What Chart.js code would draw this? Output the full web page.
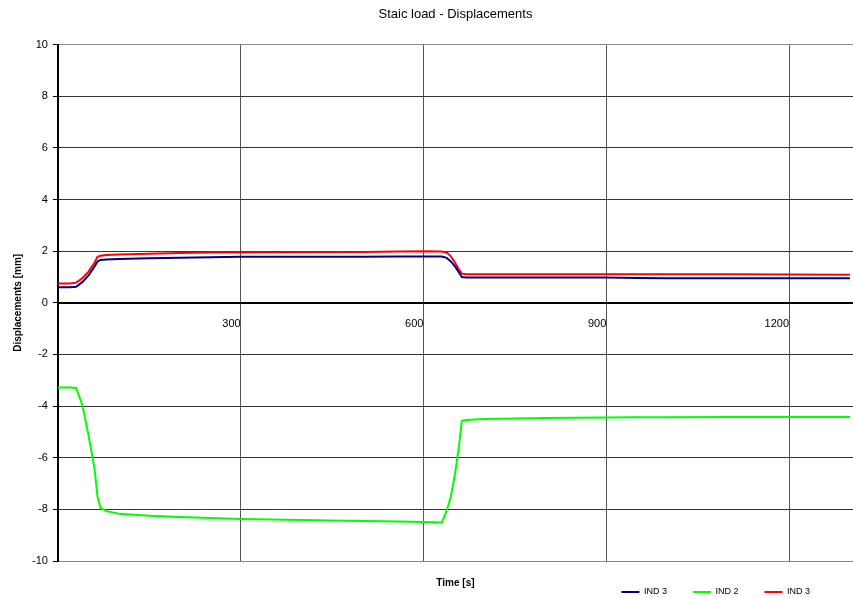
<!DOCTYPE html>
<html>
<head>
<meta charset="utf-8">
<script src="https://cdn.jsdelivr.net/npm/chart.js@4"></script>
<style>
  body { margin: 0; background: #fff; }
  canvas { display: block; }
</style>
</head>
<body>
<canvas id="myChart" width="853" height="598"></canvas>
<script>
// time [s]
const times = [0, 10, 20, 30, 40, 50, 60, 65, 70, 80, 100, 150, 200, 250, 300, 400, 500, 560, 600,
  630, 638, 645, 652, 658, 663, 670, 700, 800, 900, 950, 1000, 1100, 1200, 1300];

// displacements [mm]
const ind3Blue = [0.6, 0.6, 0.6, 0.62, 0.8, 1.05, 1.4, 1.6, 1.66, 1.68, 1.7, 1.73, 1.74, 1.76, 1.78, 1.78, 1.78, 1.79, 1.79,
  1.79, 1.74, 1.6, 1.4, 1.18, 1.0, 0.98, 0.98, 0.98, 0.98, 0.96, 0.95, 0.95, 0.95, 0.95];
const ind2Green = [-3.28, -3.28, -3.28, -3.3, -3.95, -5.1, -6.4, -7.5, -7.95, -8.07, -8.17, -8.25, -8.3, -8.33, -8.37, -8.41, -8.45, -8.47, -8.49,
  -8.51, -8.06, -7.5, -6.6, -5.6, -4.57, -4.54, -4.5, -4.46, -4.44, -4.43, -4.43, -4.42, -4.42, -4.42];
const ind3Red = [0.75, 0.75, 0.75, 0.78, 0.95, 1.2, 1.55, 1.78, 1.82, 1.85, 1.87, 1.9, 1.93, 1.95, 1.95, 1.96, 1.97, 1.99, 2.0,
  1.99, 1.95, 1.8, 1.55, 1.3, 1.13, 1.11, 1.11, 1.11, 1.11, 1.11, 1.11, 1.11, 1.1, 1.09];

const xTicks = [300, 600, 900, 1200];

Chart.defaults.font.family = '"Liberation Sans", Arial, sans-serif';
Chart.defaults.color = '#000';

// move legend down/right next to the axis title like the Excel original
const legendShift = {
    id: 'legendShift',
    afterLayout(chart) {
        const lg = chart.legend;
        const pad = lg.options.labels.padding;
        lg.bottom = chart.height;
        lg.top = chart.height - 6 - 4.5 - pad;
        lg.left -= 17;
        lg.right -= 17;
    }
};

const data = {
    labels: times,
    datasets: [{
        label: 'IND 3',
        data: ind3Blue,
        borderColor: '#000080',
        backgroundColor: '#000080',
        borderWidth: 2
    }, {
        label: 'IND 2',
        data: ind2Green,
        borderColor: '#00ff00',
        backgroundColor: '#00ff00',
        borderWidth: 2
    }, {
        label: 'IND 3',
        data: ind3Red,
        borderColor: '#ff0000',
        backgroundColor: '#ff0000',
        borderWidth: 2
    }]
};

const config = {
    type: 'line',
    data,
    options: {
        responsive: false,
        animation: false,
        layout: { padding: { left: 4, right: 0, top: 0, bottom: 0 } },
        elements: { point: { radius: 0 }, line: { tension: 0 } },
        plugins: {
            title: {
                display: true,
                text: 'Staic load - Displacements',
                fullSize: false,
                font: { size: 13, weight: 'normal' },
                padding: { top: 7, bottom: 22 }
            },
            legend: {
                position: 'bottom',
                align: 'end',
                maxHeight: 9,
                labels: {
                    usePointStyle: true,
                    pointStyle: 'line',
                    pointStyleWidth: 18,
                    boxHeight: 9,
                    padding: 26,
                    font: { size: 9 }
                }
            },
            tooltip: { enabled: false }
        },
        scales: {
            x: {
                type: 'linear',
                position: 'bottom',
                min: 0,
                max: 1305,
                ticks: { display: false },
                grid: { display: false },
                border: { display: false },
                title: {
                    display: true,
                    text: 'Time [s]',
                    font: { size: 10, weight: 'bold' },
                    padding: { top: 8, bottom: 0 }
                }
            },
            x0: {
                axis: 'x',
                type: 'linear',
                position: { y: 0 },
                min: 0,
                max: 1305,
                ticks: {
                    stepSize: 300,
                    includeBounds: false,
                    align: 'end',
                    padding: 11,
                    font: { size: 11 },
                    callback: v => xTicks.includes(v) ? String(v) : ''
                },
                grid: { color: '#555', lineWidth: 1, tickLength: 4 },
                border: { color: '#000', width: 2 }
            },
            y: {
                min: -10,
                max: 10,
                ticks: { stepSize: 2, padding: 5, font: { size: 11 } },
                grid: {
                    color: c => (c.tick && Math.abs(c.tick.value) === 10) ? '#888' : '#333',
                    tickColor: '#000',
                    tickLength: 5
                },
                border: { color: '#000', width: 2 },
                title: {
                    display: true,
                    text: 'Displacements [mm]',
                    font: { size: 10, weight: 'bold' },
                    padding: { top: 8, bottom: 3 }
                }
            }
        }
    },
    plugins: [legendShift]
};

const myChart = new Chart(document.getElementById('myChart'), config);
</script>
</body>
</html>
